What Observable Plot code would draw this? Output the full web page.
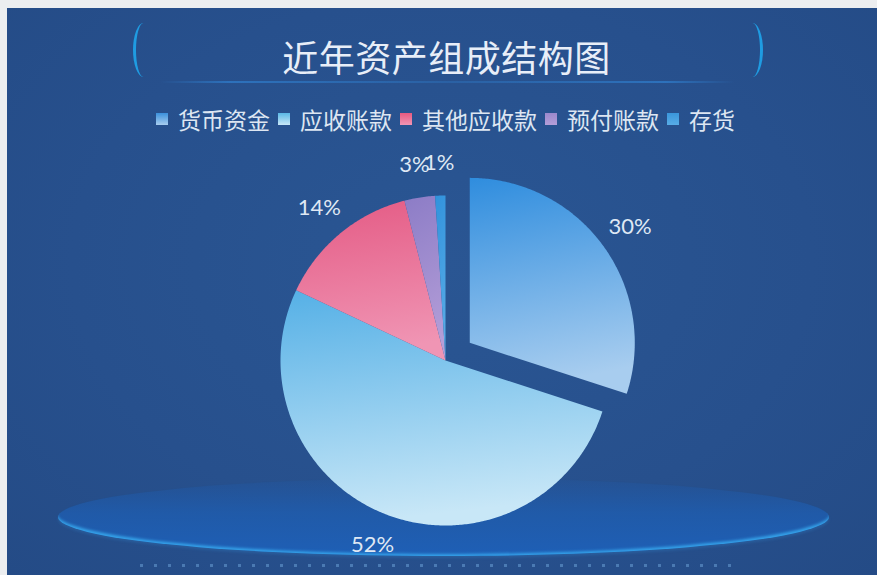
<!DOCTYPE html>
<html><head><meta charset="utf-8">
<script src="https://cdn.jsdelivr.net/npm/d3@7"></script>
<script src="https://cdn.jsdelivr.net/npm/@observablehq/plot@0.6"></script>
<style>
html,body{margin:0;padding:0;width:877px;height:575px;overflow:hidden;background:#eceef0;font-family:"Noto Sans CJK SC","Noto Sans",sans-serif;}
#panel{position:absolute;left:7px;top:8px;width:870px;height:567px;
  background:radial-gradient(ellipse at 50% 45%, #2a5693 0%, #27508d 60%, #244b86 100%);}
#stage{position:absolute;left:58px;top:478px;width:771px;height:78px;border-radius:50%;
  background:linear-gradient(to bottom, rgba(30,92,176,0.15) 0%, rgba(30,94,178,0.75) 45%, rgba(30,96,184,0.95) 100%);
  box-shadow: inset 0 -3px 3px -1px rgba(55,170,240,0.9), 0 2px 3px rgba(60,160,235,0.2);}
#dots{position:absolute;left:140px;top:564px;width:600px;height:3px;opacity:0.4;
  background:repeating-linear-gradient(to right, rgba(140,200,250,0.9) 0 3px, transparent 3px 14px);}
#title{position:absolute;left:0;top:34px;width:893px;text-align:center;font-size:36px;line-height:44px;color:#e8eef8;letter-spacing:0.5px;}
.br{position:absolute;top:23px;width:18px;height:54px;border-radius:50%;filter:blur(0.4px);}
#brl{left:133px;border-left:3px solid #1f9ce2;}
#brr{left:742px;border-right:3px solid #1f9ce2;}
#tline{position:absolute;left:160px;top:81px;width:575px;height:2px;
  background:linear-gradient(to right, rgba(40,130,220,0.0), rgba(50,140,225,0.55) 12%, rgba(50,140,225,0.25) 50%, rgba(50,140,225,0.55) 88%, rgba(40,130,220,0));}
#legend{position:absolute;left:156px;top:104px;height:30px;display:flex;align-items:center;color:#dde6f2;font-size:23px;}
#legend .sw{width:12px;height:12px;margin-right:10px;}
#legend .it{display:flex;align-items:center;margin-right:8px;}
#chart{position:absolute;left:0;top:140px;}
</style></head>
<body>
<div id="panel"></div>
<div id="stage"></div>
<div id="dots"></div>
<div class="br" id="brl"></div>
<div class="br" id="brr"></div>
<div id="tline"></div>
<div id="title">近年资产组成结构图</div>
<div id="legend"></div>
<div id="chart"></div>
<script>
// ---- data ----
const categories = ["货币资金", "应收账款", "其他应收款", "预付账款", "存货"];
const shares = [30, 52, 14, 3, 1];
const labels = ["30%", "52%", "14%", "3%", "1%"];
const explodedCategory = "货币资金";

// ---- styles ----
const topColors = ["#2f8dde", "#55b0e6", "#e45a84", "#8c7cc6", "#3192dc"];
const bottomColors = ["#a8cdef", "#c8e7f7", "#f095b4", "#b49ed8", "#58ace6"];
const legendColors = ["#3a90dc", "#5ab8e6", "#e85a80", "#9a88cc", "#3a96dc"];

// legend
const lg = document.getElementById("legend");
categories.forEach((c, i) => {
  const it = document.createElement("div"); it.className = "it";
  const sw = document.createElement("div"); sw.className = "sw";
  sw.style.background = `linear-gradient(${legendColors[i]}, ${bottomColors[i]})`;
  const tx = document.createElement("span"); tx.textContent = c;
  it.appendChild(sw); it.appendChild(tx); lg.appendChild(it);
});

// geometry (pixel units)
const R = 165, explode = 30, labelR = R * 1.2;
const arcs = d3.pie().sort(null).value(d => d)(shares);
const polys = [];
const labelData = [];
arcs.forEach((a, i) => {
  const e = categories[i] === explodedCategory ? explode : 0;
  const mid = (a.startAngle + a.endAngle) / 2;
  const ox = e * Math.sin(mid), oy = -e * Math.cos(mid);
  polys.push({i, x: ox, y: oy});
  const n = Math.max(4, Math.ceil((a.endAngle - a.startAngle) / 0.01));
  for (let k = 0; k <= n; k++) {
    const t = a.startAngle + (a.endAngle - a.startAngle) * k / n;
    polys.push({i, x: ox + R * Math.sin(t), y: oy - R * Math.cos(t)});
  }
  polys.push({i, x: ox, y: oy});
  labelData.push({x: ox + labelR * Math.sin(mid), y: oy - labelR * Math.cos(mid), text: labels[i]});
});

const svg = Plot.plot({
  width: 877, height: 435,
  margin: 0,
  style: {background: "transparent", overflow: "visible"},
  x: {domain: [-445, 432], range: [0, 877], axis: null},
  y: {domain: [-220, 215], range: [0, 435], axis: null},
  color: {type: "identity"},
  marks: [
    Plot.line(polys, {x: "x", y: "y", z: "i", fill: d => `url(#slice${d.i})`, stroke: "none"}),
    Plot.text(labelData, {x: "x", y: "y", text: "text", fill: "#dfe8f4", fontSize: 22,
      fontFamily: "Lato, 'Noto Sans', sans-serif"})
  ]
});
const defs = d3.select(svg).insert("defs", ":first-child");
categories.forEach((c, i) => {
  const g = defs.append("linearGradient").attr("id", `slice${i}`)
    .attr("x1", 0).attr("y1", 0).attr("x2", 0.15).attr("y2", 1);
  g.append("stop").attr("offset", "0%").attr("stop-color", topColors[i]);
  g.append("stop").attr("offset", "100%").attr("stop-color", bottomColors[i]);
});
document.getElementById("chart").appendChild(svg);
</script>
</body></html>
